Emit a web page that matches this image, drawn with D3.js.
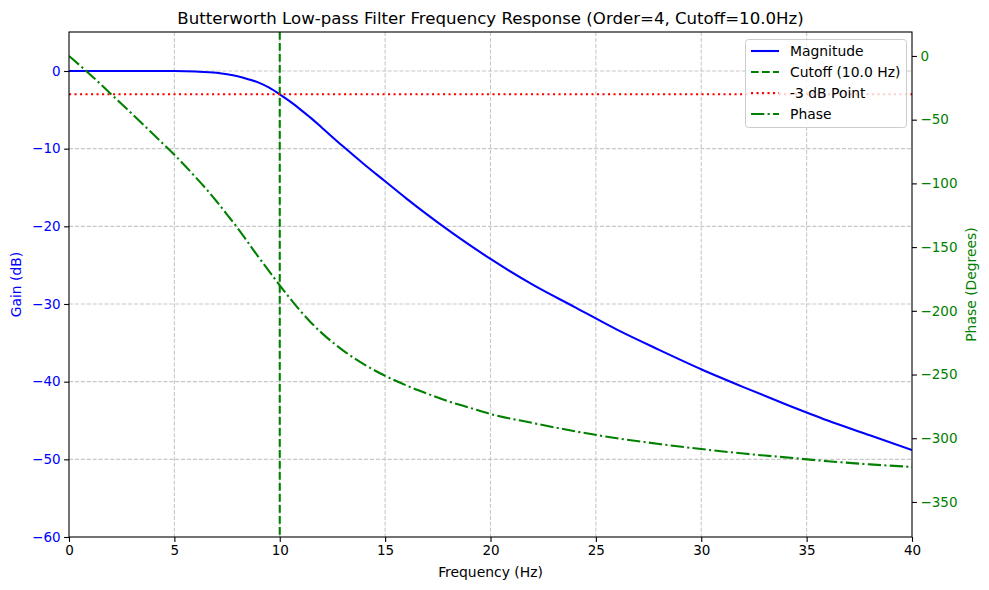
<!DOCTYPE html>
<html>
<head>
<meta charset="utf-8">
<script src="https://cdn.jsdelivr.net/npm/d3@7"></script>
<style>
  body { margin: 0; background: white; }
  text { font-family: "DejaVu Sans", sans-serif; }
</style>
</head>
<body>
<script>
// frequencies (Hz)
const freqs = [0, 1, 2, 3, 4, 5, 6, 7, 7.5, 8, 8.5, 9, 9.5, 10, 10.5, 11, 11.5, 12, 13, 14,
               15, 16, 17, 18, 19, 20, 22, 24, 26, 28, 30, 32, 34, 36, 38, 40];
// gain in dB
const gainDb = [0, 0, 0, 0, 0, -0.01, -0.07, -0.23, -0.42, -0.68, -1.05, -1.5, -2.15, -3.0,
                -3.95, -5.0, -6.1, -7.3, -9.7, -12.0, -14.2, -16.4, -18.5, -20.5, -22.4, -24.2,
                -27.5, -30.4, -33.3, -35.9, -38.4, -40.7, -42.9, -45.0, -46.9, -48.8];
// phase in degrees
const phaseDeg = [0, -14.5, -30, -45.5, -61.5, -77.5, -95, -114, -124.5, -135, -146.5, -158,
                  -169, -180, -190.5, -200.5, -209.5, -217.5, -231, -242, -251, -258.5, -265,
                  -271, -276, -281, -288, -294.5, -300, -304.5, -308.5, -312, -315, -318,
                  -320.5, -322.5];
const cutoff = 10;
const minus3 = -3;
const xTicks = [0, 5, 10, 15, 20, 25, 30, 35, 40];
const gainTicks = [0, -10, -20, -30, -40, -50, -60];
const phaseTicks = [0, -50, -100, -150, -200, -250, -300, -350];
const legendItems = ["Magnitude", "Cutoff (10.0 Hz)", "-3 dB Point", "Phase"];

const W = 989, H = 590;
const L = 69, R = 912, T = 32, B = 537;
const LW = 2.08; // 1.5pt line
const DASH = "7.7,3.3", DOT = "2.1,3.4", DASHDOT = "13.3,3.3,2.1,3.3";

const svg = d3.select("body").append("svg")
    .attr("width", W)
    .attr("height", H);

const x = d3.scaleLinear().domain([0, 40]).range([L, R]);
const yG = d3.scaleLinear().domain([-60, 5.02]).range([B, T]);
const yP = d3.scaleLinear().domain([-377.5, 18.8]).range([B, T]);

const fmt = d => d < 0 ? "\u2212" + Math.abs(d) : String(d);

// grid
const grid = svg.append("g")
    .attr("stroke", "#c8c8c8")
    .attr("stroke-width", 1.1)
    .attr("stroke-dasharray", "4.1,1.8");
grid.selectAll(".gx").data(xTicks.slice(1, -1)).enter().append("line")
    .attr("x1", d => x(d)).attr("x2", d => x(d))
    .attr("y1", T).attr("y2", B);
grid.selectAll(".gy").data(gainTicks.slice(0, -1)).enter().append("line")
    .attr("x1", L).attr("x2", R)
    .attr("y1", d => yG(d)).attr("y2", d => yG(d));

svg.append("clipPath").attr("id", "plot")
    .append("rect").attr("x", L).attr("y", T).attr("width", R - L).attr("height", B - T);
const plot = svg.append("g").attr("clip-path", "url(#plot)");

// magnitude
const magLine = d3.line()
    .x((d, i) => x(freqs[i]))
    .y(d => yG(d))
    .curve(d3.curveMonotoneX);
plot.append("path")
    .attr("d", magLine(gainDb))
    .attr("fill", "none")
    .attr("stroke", "blue")
    .attr("stroke-width", LW);

// cutoff
plot.append("line")
    .attr("x1", x(cutoff)).attr("x2", x(cutoff))
    .attr("y1", T).attr("y2", B)
    .attr("stroke", "green")
    .attr("stroke-width", LW)
    .attr("stroke-dasharray", DASH);

// -3 dB
plot.append("line")
    .attr("x1", L).attr("x2", R)
    .attr("y1", yG(minus3)).attr("y2", yG(minus3))
    .attr("stroke", "red")
    .attr("stroke-width", LW)
    .attr("stroke-dasharray", DOT);

// phase
const phLine = d3.line()
    .x((d, i) => x(freqs[i]))
    .y(d => yP(d))
    .curve(d3.curveMonotoneX);
plot.append("path")
    .attr("d", phLine(phaseDeg))
    .attr("fill", "none")
    .attr("stroke", "green")
    .attr("stroke-width", LW)
    .attr("stroke-dasharray", DASHDOT);

// axes
const xAxis = svg.append("g")
    .attr("transform", `translate(0,${B})`)
    .call(d3.axisBottom(x).tickValues(xTicks).tickFormat(fmt).tickSize(4.9).tickPadding(3.5));
const gAxis = svg.append("g")
    .attr("transform", `translate(${L},0)`)
    .call(d3.axisLeft(yG).tickValues(gainTicks).tickFormat(fmt).tickSize(4.9).tickPadding(3.5));
const pAxis = svg.append("g")
    .attr("transform", `translate(${R},0)`)
    .call(d3.axisRight(yP).tickValues(phaseTicks).tickFormat(fmt).tickSize(4.9).tickPadding(3.5));

[xAxis, gAxis, pAxis].forEach(a => {
    a.select(".domain").remove();
    a.selectAll("text").attr("font-size", 13.5).attr("font-family", "DejaVu Sans");
    a.selectAll("line").attr("stroke", "black").attr("stroke-width", 1.1);
});
gAxis.selectAll("text").attr("fill", "blue");
pAxis.selectAll("text").attr("fill", "green");
xAxis.selectAll("text").attr("fill", "black");

// frame
svg.append("rect")
    .attr("x", L).attr("y", T).attr("width", R - L).attr("height", B - T)
    .attr("fill", "none").attr("stroke", "black").attr("stroke-width", 1.1);

// labels
svg.append("text")
    .attr("x", (L + R) / 2).attr("y", 24)
    .attr("text-anchor", "middle")
    .attr("font-size", 16.6)
    .text("Butterworth Low-pass Filter Frequency Response (Order=4, Cutoff=10.0Hz)");
svg.append("text")
    .attr("x", (L + R) / 2).attr("y", 577)
    .attr("text-anchor", "middle")
    .attr("font-size", 13.9)
    .text("Frequency (Hz)");
svg.append("text")
    .attr("transform", `translate(21,${(T + B) / 2}) rotate(-90)`)
    .attr("text-anchor", "middle")
    .attr("font-size", 13.9)
    .attr("fill", "blue")
    .text("Gain (dB)");
svg.append("text")
    .attr("transform", `translate(976,${(T + B) / 2}) rotate(-90)`)
    .attr("text-anchor", "middle")
    .attr("font-size", 13.9)
    .attr("fill", "green")
    .text("Phase (Degrees)");

// legend
const leg = svg.append("g");
leg.append("rect")
    .attr("x", 745.5).attr("y", 39.5).attr("width", 161).attr("height", 88)
    .attr("rx", 3)
    .attr("fill", "white").attr("fill-opacity", 0.8)
    .attr("stroke", "#cccccc").attr("stroke-width", 1);
const styles = [
    { color: "blue", dash: null },
    { color: "green", dash: DASH },
    { color: "red", dash: DOT },
    { color: "green", dash: DASHDOT }
];
const rows = leg.selectAll(".row").data(legendItems).enter().append("g")
    .attr("transform", (d, i) => `translate(0,${51 + i * 21})`);
rows.append("line")
    .attr("x1", 751).attr("x2", 779)
    .attr("stroke", (d, i) => styles[i].color)
    .attr("stroke-width", LW)
    .attr("stroke-dasharray", (d, i) => styles[i].dash);
rows.append("text")
    .attr("x", 790).attr("y", 4.8)
    .attr("font-size", 13.9)
    .text(d => d);
</script>
</body>
</html>
